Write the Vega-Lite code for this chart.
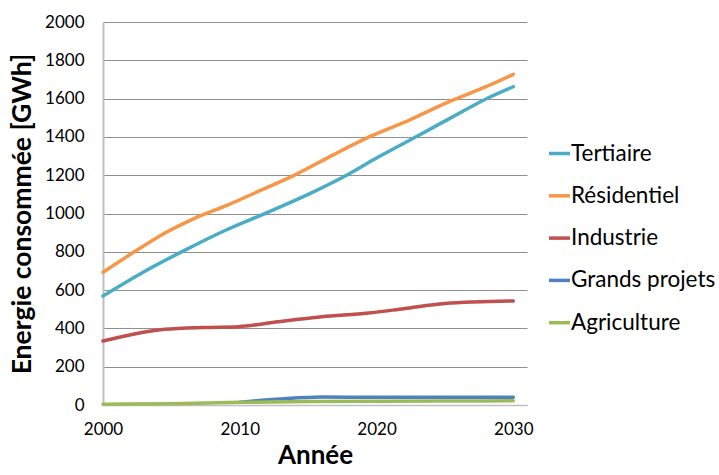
{
  "$schema": "https://vega.github.io/schema/vega-lite/v6.json",
  "autosize": "none",
  "width": 424,
  "height": 383,
  "padding": {"left": 103, "top": 22, "right": 192, "bottom": 70},
  "background": "white",
  "config": {
    "font": "Lato",
    "view": {"stroke": null}
  },
  "data": {
    "values": [
      {"serie": "Tertiaire", "annee": 2000, "valeur": 569},
      {"serie": "Tertiaire", "annee": 2003, "valeur": 696},
      {"serie": "Tertiaire", "annee": 2006, "valeur": 809},
      {"serie": "Tertiaire", "annee": 2009, "valeur": 914},
      {"serie": "Tertiaire", "annee": 2012, "valeur": 1005},
      {"serie": "Tertiaire", "annee": 2015, "valeur": 1100},
      {"serie": "Tertiaire", "annee": 2017.6, "valeur": 1192},
      {"serie": "Tertiaire", "annee": 2020, "valeur": 1290},
      {"serie": "Tertiaire", "annee": 2023, "valeur": 1405},
      {"serie": "Tertiaire", "annee": 2025.6, "valeur": 1506},
      {"serie": "Tertiaire", "annee": 2028, "valeur": 1598},
      {"serie": "Tertiaire", "annee": 2030, "valeur": 1662},
      {"serie": "Résidentiel", "annee": 2000, "valeur": 693},
      {"serie": "Résidentiel", "annee": 2002.3, "valeur": 800},
      {"serie": "Résidentiel", "annee": 2004.5, "valeur": 897},
      {"serie": "Résidentiel", "annee": 2006.7, "valeur": 975},
      {"serie": "Résidentiel", "annee": 2009.1, "valeur": 1044},
      {"serie": "Résidentiel", "annee": 2011.6, "valeur": 1123},
      {"serie": "Résidentiel", "annee": 2014, "valeur": 1200},
      {"serie": "Résidentiel", "annee": 2016.8, "valeur": 1305},
      {"serie": "Résidentiel", "annee": 2019.5, "valeur": 1401},
      {"serie": "Résidentiel", "annee": 2022.4, "valeur": 1488},
      {"serie": "Résidentiel", "annee": 2025.6, "valeur": 1593},
      {"serie": "Résidentiel", "annee": 2028, "valeur": 1662},
      {"serie": "Résidentiel", "annee": 2030, "valeur": 1727},
      {"serie": "Industrie", "annee": 2000, "valeur": 334},
      {"serie": "Industrie", "annee": 2002.3, "valeur": 371},
      {"serie": "Industrie", "annee": 2004.5, "valeur": 395},
      {"serie": "Industrie", "annee": 2007.4, "valeur": 405},
      {"serie": "Industrie", "annee": 2009.9, "valeur": 409},
      {"serie": "Industrie", "annee": 2012.8, "valeur": 435},
      {"serie": "Industrie", "annee": 2016, "valeur": 461},
      {"serie": "Industrie", "annee": 2019.4, "valeur": 480},
      {"serie": "Industrie", "annee": 2022, "valeur": 503},
      {"serie": "Industrie", "annee": 2025, "valeur": 530},
      {"serie": "Industrie", "annee": 2030, "valeur": 543},
      {"serie": "Grands projets", "annee": 2010, "valeur": 15},
      {"serie": "Grands projets", "annee": 2013, "valeur": 32},
      {"serie": "Grands projets", "annee": 2016, "valeur": 42},
      {"serie": "Grands projets", "annee": 2020, "valeur": 40},
      {"serie": "Grands projets", "annee": 2025, "valeur": 40},
      {"serie": "Grands projets", "annee": 2030, "valeur": 40},
      {"serie": "Agriculture", "annee": 2000, "valeur": 4},
      {"serie": "Agriculture", "annee": 2005, "valeur": 7},
      {"serie": "Agriculture", "annee": 2010, "valeur": 14},
      {"serie": "Agriculture", "annee": 2015, "valeur": 18},
      {"serie": "Agriculture", "annee": 2020, "valeur": 20},
      {"serie": "Agriculture", "annee": 2025, "valeur": 21},
      {"serie": "Agriculture", "annee": 2030, "valeur": 22}
    ]
  },
  "mark": {"type": "line", "interpolate": "monotone", "strokeWidth": 3.5, "strokeCap": "round"},
  "encoding": {
    "x": {
      "field": "annee",
      "type": "quantitative",
      "scale": {"domain": [2000, 2031], "nice": false, "zero": false},
      "axis": {
        "title": "Année",
        "values": [2000, 2010, 2020, 2030],
        "format": "d",
        "grid": false,
        "ticks": false,
        "tickSize": 0,
        "domainColor": "#bfbfbf",
        "domainWidth": 1.5,
        "labelFontSize": 17,
        "labelColor": "#000000",
        "labelPadding": 16,
        "labelFlush": false,
        "titleFontSize": 26,
        "titleFontWeight": "bold",
        "titleColor": "#000000",
        "titlePadding": 5
      }
    },
    "y": {
      "field": "valeur",
      "type": "quantitative",
      "scale": {"domain": [0, 2000], "nice": false},
      "axis": {
        "title": "Energie consommée [GWh]",
        "values": [0, 200, 400, 600, 800, 1000, 1200, 1400, 1600, 1800, 2000],
        "format": "d",
        "grid": true,
        "gridColor": "#8e8e8e",
        "gridWidth": 1,
        "ticks": false,
        "tickSize": 0,
        "domainColor": "#bfbfbf",
        "domainWidth": 2,
        "labelFontSize": 17,
        "labelColor": "#000000",
        "labelPadding": 19,
        "labelFlush": false,
        "titleFontSize": 26.5,
        "titleFontWeight": "bold",
        "titleColor": "#000000",
        "titlePadding": 8
      }
    },
    "color": {
      "field": "serie",
      "type": "nominal",
      "scale": {
        "domain": ["Tertiaire", "Résidentiel", "Industrie", "Grands projets", "Agriculture"],
        "range": ["#4bacc6", "#f79646", "#c0504d", "#4f81bd", "#9bbb59"]
      },
      "legend": {
        "title": null,
        "orient": "none",
        "legendX": 444,
        "legendY": 119,
        "symbolType": "stroke",
        "symbolSize": 441,
        "symbolStrokeWidth": 3.5,
        "labelFontSize": 22.5,
        "labelColor": "#000000",
        "labelOffset": -1,
        "rowPadding": 18.3,
        "padding": 0
      }
    }
  }
}
